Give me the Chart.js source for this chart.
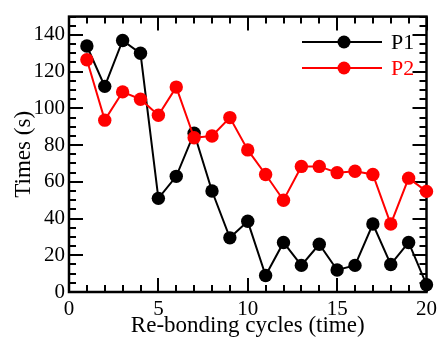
<!DOCTYPE html>
<html><head><meta charset="utf-8">
<script src="https://cdn.jsdelivr.net/npm/chart.js@4/dist/chart.umd.min.js"></script>
<style>html,body{margin:0;padding:0;background:#fff;}canvas{display:block;}</style>
</head><body>
<canvas id="c" width="442" height="340"></canvas>
<script>
const cycles  = [1,2,3,4,5,6,7,8,9,10,11,12,13,14,15,16,17,18,19,20];
const p1Times = [134,112,137,130,51,63,86.5,55,29.5,38.5,9,27,14.5,26,12,14.5,37,15,27,4];
const p2Times = [126.5,93.6,109,105,96.3,111.6,84,85,95,77.4,64,50,68.4,68.4,65,65.8,64,37,62,54.8];
const xTickValues = [0,5,10,15,20];
const yTickValues = [0,20,40,60,80,100,120,140];
const seriesNames = ['P1','P2'];
const seriesColors = ['#000000','#ff0000'];

const FONT = "'Liberation Serif','Times New Roman',Times,serif";

const framePlugin = {
  id: 'frame',
  beforeDatasetsDraw(chart) {
    const {ctx, chartArea, scales} = chart;
    const {left, right, top, bottom} = chartArea;
    const xs = scales.x, ys = scales.y;
    ctx.save();
    ctx.strokeStyle = '#000';
    ctx.lineWidth = 2;
    ctx.beginPath();
    for (let v = xs.min; v <= xs.max; v += 1) {
      const px = Math.round(xs.getPixelForValue(v));
      const len = (v % 5 === 0) ? 14 : 7;
      ctx.moveTo(px, bottom); ctx.lineTo(px, bottom - len);
      ctx.moveTo(px, top); ctx.lineTo(px, top + len);
    }
    for (let v = ys.min; v <= ys.max; v += 5) {
      const py = Math.round(ys.getPixelForValue(v));
      const len = (v % 20 === 0) ? 14 : 7;
      ctx.moveTo(left, py); ctx.lineTo(left + len, py);
      ctx.moveTo(right, py); ctx.lineTo(right - len, py);
    }
    ctx.stroke();
    ctx.lineWidth = 2.5;
    ctx.strokeRect(left, top, right - left, bottom - top);
    ctx.restore();
  },
  afterDraw(chart) {
    const {ctx} = chart;
    ctx.save();
    const rows = [42, 68];
    chart.data.datasets.forEach((ds, i) => {
      const y = rows[i];
      ctx.strokeStyle = ds.borderColor;
      ctx.lineWidth = 2;
      ctx.beginPath(); ctx.moveTo(302, y); ctx.lineTo(382, y); ctx.stroke();
      ctx.fillStyle = ds.borderColor;
      ctx.beginPath(); ctx.arc(344, y, 6.5, 0, Math.PI * 2); ctx.fill();
      ctx.font = '22px ' + FONT;
      ctx.textBaseline = 'middle';
      ctx.textAlign = 'left';
      ctx.fillText(ds.label, 391, y + 1);
    });
    ctx.restore();
  }
};

const mk = (vals) => cycles.map((c, i) => ({x: c, y: vals[i]}));

new Chart(document.getElementById('c'), {
  type: 'line',
  data: {
    datasets: [
      { label: seriesNames[0], data: mk(p1Times), borderColor: seriesColors[0], backgroundColor: seriesColors[0],
        borderWidth: 2, pointRadius: 6.7, pointBorderWidth: 0, pointBackgroundColor: seriesColors[0], order: 1, clip: false, tension: 0 },
      { label: seriesNames[1], data: mk(p2Times), borderColor: seriesColors[1], backgroundColor: seriesColors[1],
        borderWidth: 2, pointRadius: 6.7, pointBorderWidth: 0, pointBackgroundColor: seriesColors[1], order: 0, clip: false, tension: 0 }
    ]
  },
  options: {
    responsive: false,
    animation: false,
    devicePixelRatio: 1,
    layout: { padding: { top: 9, right: 11, left: 0, bottom: 0 } },
    plugins: { legend: { display: false }, tooltip: { enabled: false } },
    scales: {
      x: {
        type: 'linear', min: 0, max: 20,
        afterBuildTicks: s => { s.ticks = xTickValues.map(v => ({value: v})); },
        afterFit: s => { s.height = 48; },
        grid: { display: false, drawTicks: false },
        border: { display: false },
        ticks: { color: '#000', padding: 5, maxRotation: 0, autoSkip: false, font: { family: FONT, size: 21 } },
        title: { display: true, text: 'Re-bonding cycles (time)', color: '#000', font: { family: FONT, size: 23 }, padding: { top: 0, bottom: 0 } }
      },
      y: {
        type: 'linear', min: 0, max: 150,
        afterBuildTicks: s => { s.ticks = yTickValues.map(v => ({value: v})); },
        afterFit: s => { s.width = 69; },
        grid: { display: false, drawTicks: false },
        border: { display: false },
        ticks: { color: '#000', padding: 4, autoSkip: false, font: { family: FONT, size: 21 } },
        title: { display: true, text: 'Times (s)', color: '#000', font: { family: FONT, size: 23 }, padding: { top: 10, bottom: 0 } }
      }
    }
  },
  plugins: [framePlugin]
});
</script>
</body></html>
